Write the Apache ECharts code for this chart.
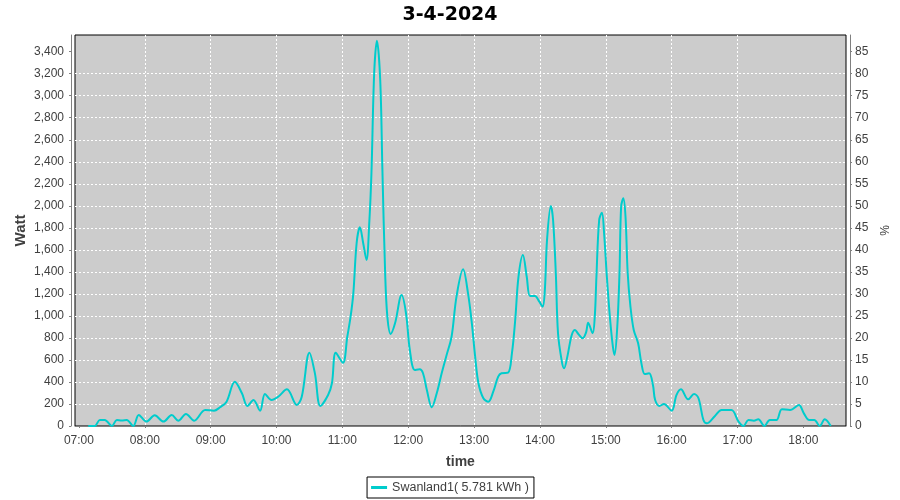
<!DOCTYPE html>
<html>
<head>
<meta charset="utf-8">
<script src="https://cdn.jsdelivr.net/npm/echarts@6/dist/echarts.min.js"></script>
<style>
html,body{margin:0;padding:0;background:#fff;}
#c{width:900px;height:500px;}
</style>
</head>
<body>
<div id="c"></div>
<script>
// time in minutes after midnight
const times = [428.5,434.5,439,443.5,450,454.5,459,463.5,469.5,474.5,481.5,489,497,504.5,510.5,517.5,525,535,543,548.5,554.5,562,568.5,573.5,579,585,589.5,595.5,601.5,609.5,618.5,623,630,635,640,647,650.5,654,660.5,664.5,667.5,670,673,676,679,682,684.5,686.5,689,691.5,694.5,696.5,699,701,704,708,714,718,721.5,726,730.5,733.5,737,741.5,746,750.5,755,759.5,764,770,774.5,778,781,784,788.5,793,797.5,802,805,811,814.5,817.5,820.5,824.5,828,831,835.5,839.5,842.5,844.5,846.5,850,852,854.5,856.5,860,862,865,869,872,875,879,882,884,888,890,891.5,894,896.5,898.5,901,904,906.5,908,910.5,912.5,914,916,918,920,922.5,925.5,929.5,932.5,935.5,939.5,943,945,949,953,960,964.5,968.5,975,980.5,984.5,989,992,999.5,1005.5,1014.5,1021,1025.5,1030,1035,1039,1044.5,1049.5,1055.5,1060.5,1068,1076,1080.5,1085.5,1090,1095,1099.5,1105];
const watts = [0,0,55,55,0,55,50,55,0,100,40,97,40,100,48,109,48,145,139,170,221,402,297,182,236,139,290,236,266,333,191,266,666,478,182,282,388,666,575,811,993,1205,1660,1805,1660,1508,1841,2295,3204,3500,3143,2325,1387,993,836,933,1190,1024,690,509,515,479,327,170,297,479,645,811,1175,1423,1205,933,630,388,252,221,312,448,479,484,660,963,1356,1553,1356,1181,1181,1129,1084,1235,1690,1998,1871,1387,842,584,524,630,827,872,836,797,848,938,842,993,1356,1871,1938,1750,1356,963,720,645,902,1387,1992,2068,1901,1387,1084,872,751,569,472,479,372,236,182,200,139,282,333,242,291,252,54,24,91,145,145,39,0,54,48,61,0,54,54,152,145,191,115,54,54,0,61,0];
const hourTicks = [420,480,540,600,660,720,780,840,900,960,1020,1080];
const wattTicks = [0,200,400,600,800,1000,1200,1400,1600,1800,2000,2200,2400,2600,2800,3000,3200,3400];
const pctTicks = [0,5,10,15,20,25,30,35,40,45,50,55,60,65,70,75,80,85];
const seriesName = 'Swanland1( 5.781 kWh )';
const titleText = '3-4-2024';

const data = times.map((t, i) => [t, watts[i]]);
const fmtTime = v => {
  const h = Math.floor(v / 60), m = Math.round(v % 60);
  return String(h).padStart(2, '0') + ':' + String(m).padStart(2, '0');
};
const wattMax = 3551.5;
const pctMax = wattMax / 40;
const tickFont = { color: '#404040', fontFamily: 'Liberation Sans', fontSize: 12 };
const gridLine = { show: true, showMinLine: false, showMaxLine: false,
  lineStyle: { color: '#ffffff', type: [2, 2], width: 1 } };
const axisLine = { show: true, lineStyle: { color: '#808080', width: 1 } };
const tickStyle = { show: true, length: 2, lineStyle: { color: '#808080' } };
const nameFont = { fontFamily: 'Liberation Sans', fontWeight: 'bold', fontSize: 15, color: '#404040' };

const chart = echarts.init(document.getElementById('c'), null, { renderer: 'canvas' });
chart.setOption({
  animation: false,
  backgroundColor: '#ffffff',
  title: {
    text: titleText, left: 'center', top: 1,
    textStyle: { fontFamily: 'DejaVu Sans', fontWeight: 'bold', fontSize: 19, color: '#000' }
  },
  legend: {
    left: 'center', top: 477,
    data: [{ name: seriesName, icon: 'rect' }],
    itemWidth: 16, itemHeight: 3, itemGap: 4,
    padding: [4, 5, 4, 4],
    borderColor: '#000', borderWidth: 1,
    textStyle: { color: '#404040', fontFamily: 'Liberation Sans', fontSize: 12.5 }
  },
  grid: {
    left: 75, right: 54, top: 35, bottom: 74,
    show: true, backgroundColor: '#cccccc', borderColor: '#000000', borderWidth: 1
  },
  xAxis: {
    type: 'value', min: 416.4, max: 1118.9, offset: 4,
    name: 'time', nameLocation: 'middle', nameGap: 25,
    nameTextStyle: Object.assign({}, nameFont, { fontSize: 14 }),
    axisLine: axisLine,
    axisTick: Object.assign({ customValues: hourTicks }, tickStyle),
    axisLabel: Object.assign({ customValues: hourTicks, margin: 5, formatter: fmtTime }, tickFont),
    splitLine: gridLine
  },
  yAxis: [
    {
      type: 'value', min: 0, max: wattMax, offset: 4, position: 'left',
      name: 'Watt', nameLocation: 'middle', nameGap: 43, nameMoveOverlap: false,
      nameTextStyle: nameFont,
      axisLine: axisLine,
      axisTick: Object.assign({ customValues: wattTicks }, tickStyle),
      axisLabel: Object.assign({ customValues: wattTicks, margin: 7,
        formatter: v => v.toLocaleString('en-US') }, tickFont),
      splitLine: gridLine
    },
    {
      type: 'value', min: 0, max: pctMax, offset: 4, position: 'right',
      name: '%', nameLocation: 'middle', nameGap: 25,
      nameTextStyle: { fontFamily: 'Liberation Sans', fontSize: 12, color: '#404040' },
      axisLine: axisLine,
      axisTick: Object.assign({ customValues: pctTicks }, tickStyle),
      axisLabel: Object.assign({ customValues: pctTicks, margin: 5,
        formatter: v => String(v) }, tickFont),
      splitLine: { show: false }
    }
  ],
  series: [{
    name: seriesName, type: 'line', data: data, yAxisIndex: 0,
    smooth: 0.35, showSymbol: false, symbol: 'none',
    lineStyle: { color: '#00cccc', width: 2 }, itemStyle: { color: '#00cccc' }
  }]
});
</script>
</body>
</html>
